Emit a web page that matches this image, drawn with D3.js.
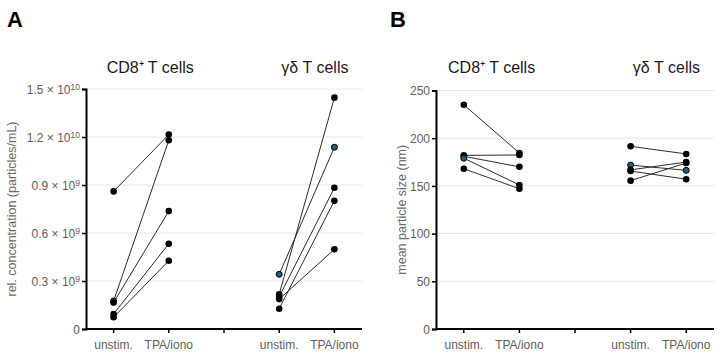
<!DOCTYPE html>
<html>
<head>
<meta charset="utf-8">
<script src="https://cdn.jsdelivr.net/npm/d3@7"></script>
<style>
  html, body { margin: 0; padding: 0; background: #fff; }
  svg { display: block; font-family: "Liberation Sans", Arial, sans-serif; }
</style>
</head>
<body>
<svg id="chart" width="722" height="357"></svg>
<script>
// ---------- DATA ----------
const xCategories = ["unstim.", "TPA/iono", "", "unstim.", "TPA/iono"];
const groupTitles = ["CD8\u207A T cells", "\u03B3\u03B4 T cells"];

// Panel A: relative concentration (units of 10^9 particles/mL on the drawn scale)
const concCD8Unstim = [8.6, 1.75, 1.65, 0.94, 0.73];
const concCD8TPA    = [12.15, 11.8, 7.37, 5.33, 4.27];
const concGDUnstim  = [3.42, 2.17, 2.02, 1.87, 1.27];
const concGDTPA     = [11.36, 14.46, 8.83, 4.98, 8.02];
const concTickValues   = [0, 3, 6, 9, 12, 15];
const concTickMantissa = ["0", "0.3", "0.6", "0.9", "1.2", "1.5"];
const concTickExponent = ["", "9", "9", "9", "10", "10"];
// highlighted (teal-centred) points: [unstim flags], [TPA flags]
const concCD8Hl = [[0,1,0,0,0],[0,0,0,0,0]];
const concGDHl  = [[1,0,0,0,0],[1,0,0,0,0]];

// Panel B: mean particle size (nm)
const sizeCD8Unstim = [235, 182, 181, 179, 168];
const sizeCD8TPA    = [184.5, 182.4, 170, 151, 147];
const sizeGDUnstim  = [191.5, 171.8, 166.8, 165.6, 155.5];
const sizeGDTPA     = [183.5, 166.3, 175, 157, 174];
const sizeTickValues = [0, 50, 100, 150, 200, 250];
const sizeCD8Hl = [[0,0,0,1,0],[0,0,0,0,0]];
const sizeGDHl  = [[0,1,0,0,0],[0,1,0,0,0]];

// ---------- DRAW ----------
const svg = d3.select("#chart");
const tickColor = "#5e5e5e";
const titleColor = "#6a6a6a";

function panel(opts) {
  const g = svg.append("g");
  const x = d3.scaleBand().domain(d3.range(xCategories.length)).range([opts.x0, opts.x1]);
  const y = d3.scaleLinear().domain([0, opts.yMax]).range([opts.yBottom, opts.yTop]);

  // gridlines
  g.append("g").selectAll("line").data(opts.ticks.filter(d => d > 0)).join("line")
    .attr("x1", opts.x0).attr("x2", opts.x1)
    .attr("y1", d => y(d)).attr("y2", d => y(d))
    .attr("stroke", "#e6e6e6").attr("stroke-width", 1);

  // y axis
  const yAxis = g.append("g").attr("transform", `translate(${opts.x0},0)`)
    .call(d3.axisLeft(y).tickValues(opts.ticks).tickSize(4).tickPadding(3).tickFormat(""));
  yAxis.select(".domain").attr("stroke", "#000").attr("stroke-width", 2);
  yAxis.selectAll(".tick line").attr("stroke", "#000").attr("stroke-width", 1.5);
  yAxis.selectAll(".tick").each(function(d, i) {
    const t = d3.select(this).append("text")
      .attr("x", -6).attr("dy", "0.35em")
      .attr("text-anchor", "end").attr("fill", tickColor)
      .style("font-size", "12px");
    opts.label(t, d, i);
  });

  // x axis
  const xAxis = g.append("g").attr("transform", `translate(0,${opts.yBottom})`)
    .call(d3.axisBottom(x).tickSize(4).tickPadding(7).tickFormat(i => xCategories[i]));
  xAxis.select(".domain").attr("stroke", "#000").attr("stroke-width", 2)
    .attr("d", `M${opts.x0},0H${opts.x1}`);
  xAxis.selectAll(".tick line").attr("stroke", "#000").attr("stroke-width", 1.5);
  xAxis.selectAll(".tick text").attr("fill", tickColor).style("font-size", "12px");

  // y title
  g.append("text")
    .attr("transform", `translate(${opts.yTitleX},${(opts.yTop + opts.yBottom) / 2}) rotate(-90)`)
    .attr("text-anchor", "middle").attr("fill", titleColor)
    .style("font-size", "12.5px").text(opts.yTitle);

  // group titles
  [0, 3].forEach((start, gi) => {
    const cx = (x(start) + x(start + 1)) / 2 + x.bandwidth() / 2 + opts.titleShift[gi];
    g.append("text").attr("x", cx).attr("y", 73)
      .attr("text-anchor", "middle").attr("fill", "#1a1a1a")
      .style("font-size", "16px").text(groupTitles[gi]);
  });

  // panel letter
  g.append("text").attr("x", opts.letterX).attr("y", 27)
    .attr("fill", "#000").style("font-size", "22px").style("font-weight", "bold")
    .text(opts.letter);

  // pairs
  opts.groups.forEach((grp, gi) => {
    const xi0 = gi === 0 ? 0 : 3;
    const xa = x(xi0) + x.bandwidth() / 2;
    const xb = x(xi0 + 1) + x.bandwidth() / 2;
    const pairs = grp.u.map((v, i) => ({u: v, t: grp.t[i], hu: grp.hl[0][i], ht: grp.hl[1][i]}));
    g.append("g").selectAll("line").data(pairs).join("line")
      .attr("x1", xa).attr("x2", xb)
      .attr("y1", d => y(d.u)).attr("y2", d => y(d.t))
      .attr("stroke", "#2b2b2b").attr("stroke-width", 1);
    const pts = [];
    pairs.forEach(p => { pts.push({cx: xa, v: p.u, h: p.hu}); pts.push({cx: xb, v: p.t, h: p.ht}); });
    g.append("g").selectAll("circle").data(pts).join("circle")
      .attr("cx", d => d.cx).attr("cy", d => y(d.v)).attr("r", d => d.h ? 3 : 3.3)
      .attr("fill", d => d.h ? "#1d5f7c" : "#000")
      .attr("stroke", "#000").attr("stroke-width", d => d.h ? 1 : 0);
  });
  svg.selectAll("text").style("font-family", "'Liberation Sans', Arial, sans-serif");
}

panel({
  x0: 86, x1: 362, yTop: 89, yBottom: 329, yMax: 15,
  ticks: concTickValues,
  label: (t, d, i) => {
    t.append("tspan").text(concTickExponent[i] ? concTickMantissa[i] + " \u00D7 10" : concTickMantissa[i]);
    if (concTickExponent[i]) {
      t.append("tspan").attr("dy", "-0.45em").style("font-size", "8.5px").text(concTickExponent[i]);
    }
  },
  yTitle: "rel. concentration (particles/mL)", yTitleX: 16,
  titleShift: [9, 8],
  letter: "A", letterX: 7,
  groups: [
    {u: concCD8Unstim, t: concCD8TPA, hl: concCD8Hl},
    {u: concGDUnstim, t: concGDTPA, hl: concGDHl}
  ]
});

panel({
  x0: 436, x1: 714, yTop: 90.5, yBottom: 329, yMax: 250,
  ticks: sizeTickValues,
  label: (t, d, i) => { t.text(sizeTickValues[i]); },
  yTitle: "mean particle size (nm)", yTitleX: 406,
  titleShift: [0, 8],
  letter: "B", letterX: 390,
  groups: [
    {u: sizeCD8Unstim, t: sizeCD8TPA, hl: sizeCD8Hl},
    {u: sizeGDUnstim, t: sizeGDTPA, hl: sizeGDHl}
  ]
});
</script>
</body>
</html>
